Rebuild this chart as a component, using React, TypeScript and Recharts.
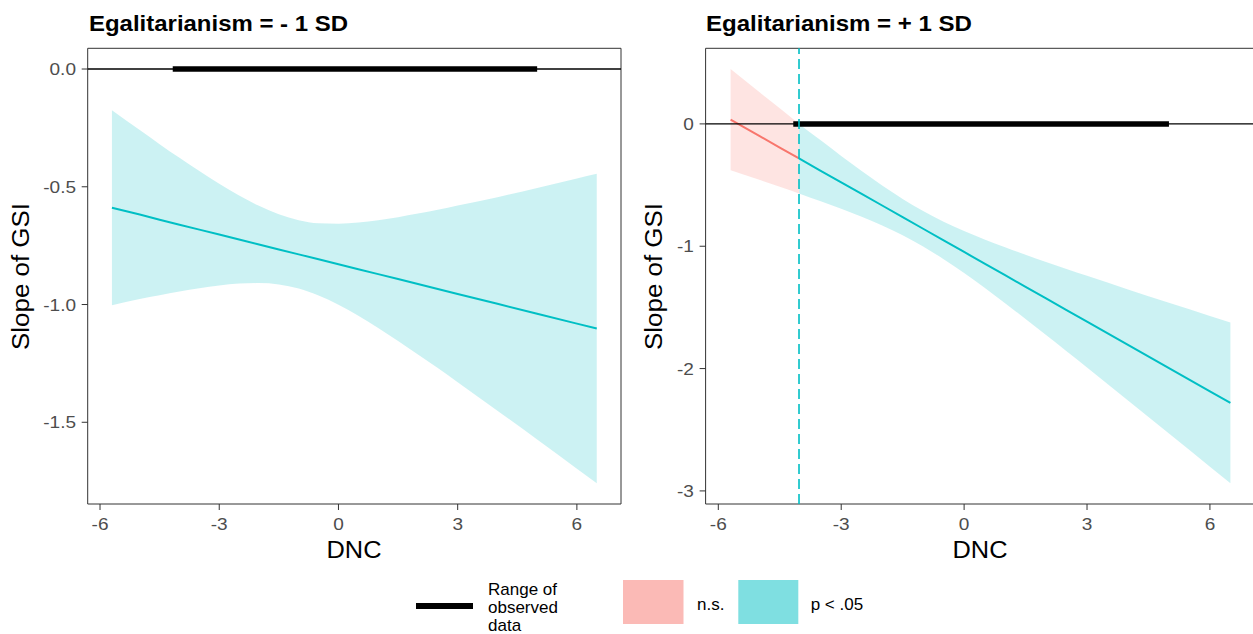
import { ComposedChart, Area, Line, XAxis, YAxis, ReferenceLine, ReferenceArea } from 'recharts';

// DNC grid the bands were read at
const leftX = [-5.7, -5, -4.5, -4, -3.5, -3, -2.5, -2, -1.5, -1, -0.5, 0, 0.5, 1, 1.5, 2, 2.5, 3, 4, 5, 6, 6.5];
const leftFit = [-0.589, -0.618, -0.64, -0.661, -0.682, -0.703, -0.724, -0.745, -0.766, -0.787, -0.808, -0.829, -0.85, -0.871, -0.892, -0.913, -0.934, -0.955, -0.997, -1.039, -1.081, -1.102];
const leftLow = [-1.003, -0.977, -0.961, -0.945, -0.931, -0.919, -0.911, -0.909, -0.915, -0.932, -0.962, -1.001, -1.048, -1.1, -1.155, -1.212, -1.27, -1.33, -1.451, -1.573, -1.697, -1.759];
const leftHigh = [-0.175, -0.259, -0.319, -0.377, -0.433, -0.487, -0.537, -0.581, -0.617, -0.642, -0.655, -0.657, -0.652, -0.642, -0.629, -0.614, -0.598, -0.58, -0.544, -0.505, -0.465, -0.445];

const rightX = [-5.7, -5, -4.5, -4.03, -3.5, -3, -2.5, -2, -1.5, -1, -0.5, 0, 0.5, 1, 1.5, 2, 2.5, 3, 4, 5, 6, 6.5];
const rightFit = [0.035, -0.098, -0.193, -0.282, -0.383, -0.478, -0.572, -0.667, -0.762, -0.857, -0.952, -1.047, -1.142, -1.237, -1.332, -1.427, -1.522, -1.616, -1.806, -1.996, -2.186, -2.281];
const rightLow = [-0.379, -0.457, -0.514, -0.568, -0.632, -0.694, -0.759, -0.831, -0.911, -1.002, -1.106, -1.219, -1.34, -1.466, -1.595, -1.726, -1.858, -1.991, -2.26, -2.53, -2.802, -2.938];
const rightHigh = [0.449, 0.261, 0.128, 0, -0.134, -0.262, -0.385, -0.503, -0.613, -0.712, -0.799, -0.875, -0.944, -1.008, -1.069, -1.128, -1.186, -1.241, -1.353, -1.462, -1.57, -1.624];

// Johnson-Neyman point (right panel only) and observed DNC range
const jnRight = -4.03;
const observedRange = [-4.17, 5.0];

const xTicks = [-6, -3, 0, 3, 6];
const xDomain = [-6.31, 7.11];
const leftYTicks = [-1.5, -1, -0.5, 0];
const leftYDomain = [-1.847, 0.088];
const rightYTicks = [-3, -2, -1, 0];
const rightYDomain = [-3.107, 0.618];

const TEAL = '#00BFC4';
const RED = '#F8766D';
const FONT = '"Liberation Sans", Arial, Helvetica, sans-serif';

function buildRows(xs: number[], fit: number[], low: number[], high: number[], jn: number | null) {
  return xs.map((x, i) => {
    const ns = jn !== null && x <= jn;
    const sig = jn === null || x >= jn;
    return {
      x,
      bandNs: ns ? [low[i], high[i]] : null,
      bandSig: sig ? [low[i], high[i]] : null,
      lineNs: ns ? fit[i] : null,
      lineSig: sig ? fit[i] : null,
    };
  });
}

const leftRows = buildRows(leftX, leftFit, leftLow, leftHigh, null);
const rightRows = buildRows(rightX, rightFit, rightLow, rightHigh, jnRight);

// ggplot's text here is a little wider than Liberation Sans, so stretch it slightly
const XTick = (props: any) => {
  const { x, y, payload } = props;
  return (
    <text
      transform={`translate(${x},${y + 18}) scale(1.12,1)`}
      textAnchor="middle"
      fontSize={17}
      fill="#4d4d4d"
      fontFamily={FONT}
    >
      {String(payload.value)}
    </text>
  );
};

const makeYTick = (digits: number) => (props: any) => {
  const { x, y, payload } = props;
  return (
    <text
      transform={`translate(${x - 3.7},${y + 6}) scale(1.12,1)`}
      textAnchor="end"
      fontSize={17}
      fill="#4d4d4d"
      fontFamily={FONT}
    >
      {Number(payload.value).toFixed(digits)}
    </text>
  );
};

interface PanelProps {
  rows: any[];
  width: number;
  yWidth: number;
  right: number;
  yDomain: number[];
  yTicks: number[];
  digits: number;
  jn: number | null;
}

function Panel({ rows, width, yWidth, right, yDomain, yTicks, digits, jn }: PanelProps) {
  return (
    <ComposedChart width={width} height={634} data={rows} margin={{ top: 48.3, right, bottom: 100, left: 0 }}>
      <XAxis
        type="number"
        dataKey="x"
        domain={xDomain}
        ticks={xTicks}
        allowDataOverflow
        axisLine={false}
        tickLine={{ stroke: '#333' }}
        tickSize={6}
        height={30}
        tick={<XTick />}
      />
      <YAxis
        type="number"
        domain={yDomain}
        ticks={yTicks}
        allowDataOverflow
        axisLine={false}
        tickLine={{ stroke: '#333' }}
        tickSize={6}
        width={yWidth}
        tick={makeYTick(digits)}
      />
      <Area type="monotone" dataKey="bandNs" stroke="none" fill={RED} fillOpacity={0.2} isAnimationActive={false} activeDot={false} />
      <Area type="monotone" dataKey="bandSig" stroke="none" fill={TEAL} fillOpacity={0.2} isAnimationActive={false} activeDot={false} />
      <Line type="linear" dataKey="lineNs" stroke={RED} strokeWidth={2} dot={false} isAnimationActive={false} activeDot={false} />
      <Line type="linear" dataKey="lineSig" stroke={TEAL} strokeWidth={2} dot={false} isAnimationActive={false} activeDot={false} />
      <ReferenceLine y={0} stroke="#000" strokeWidth={1.4} />
      <ReferenceLine
        segment={[{ x: observedRange[0], y: 0 }, { x: observedRange[1], y: 0 }]}
        stroke="#000"
        strokeWidth={5.5}
      />
      {jn !== null && <ReferenceLine x={jn} stroke={TEAL} strokeWidth={1.6} strokeDasharray="10 5" />}
      <ReferenceArea
        x1={xDomain[0]}
        x2={xDomain[1]}
        y1={yDomain[0]}
        y2={yDomain[1]}
        fill="none"
        stroke="#333"
        strokeWidth={1}
        ifOverflow="visible"
      />
    </ComposedChart>
  );
}

export default function App() {
  return (
    <div style={{ position: 'absolute', left: 0, top: 0, width: 1253, height: 634, overflow: 'hidden', background: '#fff' }}>
      <div style={{ position: 'absolute', left: 0, top: 0 }}>
        <Panel rows={leftRows} width={625} yWidth={87.7} right={4} yDomain={leftYDomain} yTicks={leftYTicks} digits={1} jn={null} />
      </div>
      <div style={{ position: 'absolute', left: 620, top: 0 }}>
        <Panel rows={rightRows} width={640} yWidth={85.6} right={4.6} yDomain={rightYDomain} yTicks={rightYTicks} digits={0} jn={jnRight} />
      </div>
      <svg width={1253} height={634} style={{ position: 'absolute', left: 0, top: 0, pointerEvents: 'none' }} fontFamily={FONT}>
        <text x={89} y={30.5} fontSize={22} fontWeight="bold" fill="#000" textLength={259} lengthAdjust="spacingAndGlyphs">
          Egalitarianism = - 1 SD
        </text>
        <text x={706} y={30.5} fontSize={22} fontWeight="bold" fill="#000" textLength={266} lengthAdjust="spacingAndGlyphs">
          Egalitarianism = + 1 SD
        </text>
        <text x={354} y={558} fontSize={23} textAnchor="middle" fill="#000" textLength={55} lengthAdjust="spacingAndGlyphs">DNC</text>
        <text x={980} y={558} fontSize={23} textAnchor="middle" fill="#000" textLength={55} lengthAdjust="spacingAndGlyphs">DNC</text>
        <text transform="translate(29,276.5) rotate(-90)" fontSize={23} textAnchor="middle" fill="#000" textLength={147} lengthAdjust="spacingAndGlyphs">
          Slope of GSI
        </text>
        <text transform="translate(662,276.5) rotate(-90)" fontSize={23} textAnchor="middle" fill="#000" textLength={147} lengthAdjust="spacingAndGlyphs">
          Slope of GSI
        </text>
        {/* legend */}
        <line x1={416} x2={473} y1={606} y2={606} stroke="#000" strokeWidth={6} />
        <text x={488} y={595} fontSize={17} fill="#000">Range of</text>
        <text x={488} y={613} fontSize={17} fill="#000">observed</text>
        <text x={488} y={631} fontSize={17} fill="#000">data</text>
        <rect x={623} y={580} width={60.5} height={44} fill={RED} fillOpacity={0.5} />
        <text x={697} y={610} fontSize={17} fill="#000">n.s.</text>
        <rect x={738.3} y={580} width={60} height={44} fill={TEAL} fillOpacity={0.5} />
        <text x={810.7} y={610} fontSize={17} fill="#000">p &lt; .05</text>
      </svg>
    </div>
  );
}
